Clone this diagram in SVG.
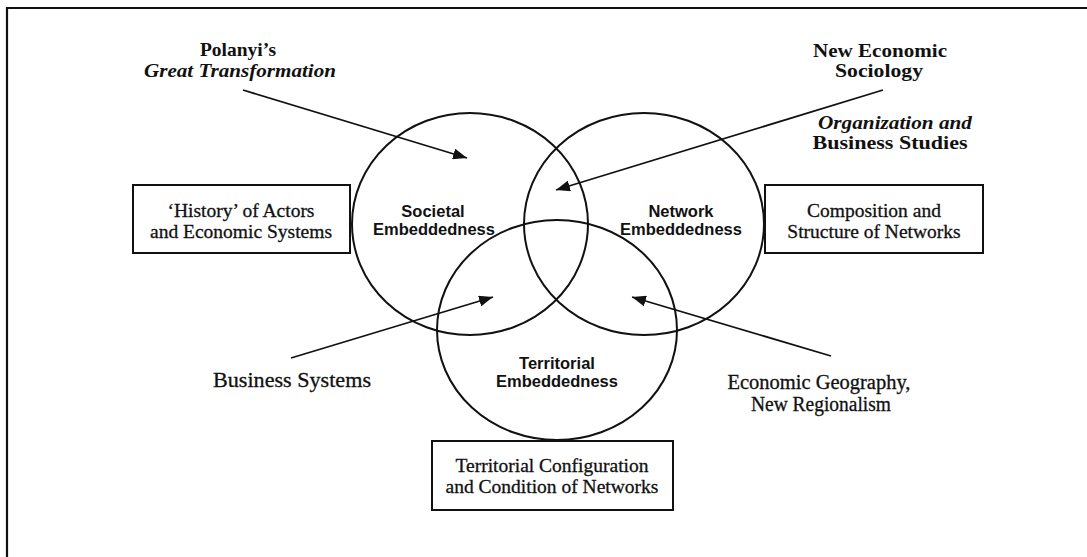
<svg xmlns="http://www.w3.org/2000/svg" width="1087" height="557" viewBox="0 0 1087 557">
  <style>
    .ring { fill: none; stroke: #111; stroke-width: 2; }
    .box { fill: #fff; stroke: #111; stroke-width: 2; }
    .link { fill: none; stroke: #111; stroke-width: 1.8; }
    .core { font-family: "Liberation Sans", Arial, sans-serif; font-weight: bold; font-size: 16.5px; fill: #111; text-anchor: middle; }
    .src { font-family: "Liberation Serif", "Times New Roman", serif; font-weight: bold; font-size: 19.5px; fill: #111; text-anchor: middle; }
    .srcr { font-family: "Liberation Serif", "Times New Roman", serif; font-size: 21px; fill: #111; text-anchor: middle; stroke: #111; stroke-width: 0.3; }
    .geo { font-size: 20px; }
    .lab { font-family: "Liberation Serif", "Times New Roman", serif; font-size: 19.5px; fill: #111; text-anchor: middle; stroke: #111; stroke-width: 0.3; }
    .it { font-style: italic; }
  </style>
  <defs>
    <marker id="head" markerUnits="userSpaceOnUse" markerWidth="15" markerHeight="11" refX="14" refY="5.5" orient="auto">
      <path d="M0,0 L14,5.5 L0,11 Z" fill="#111"/>
    </marker>
  </defs>

  <rect width="1087" height="557" fill="#fff"/>

  <!-- outer frame (top and left edges) -->
  <g id="frame">
    <path d="M7,557 L7,8 L1087,8" fill="none" stroke="#111" stroke-width="2.2"/>
  </g>

  <!-- embeddedness circles -->
  <g id="societal">
    <ellipse class="ring" cx="470" cy="224" rx="118" ry="111"/>
    <text class="core" x="433" y="217">Societal</text>
    <text class="core" x="434" y="235">Embeddedness</text>
  </g>
  <g id="network">
    <ellipse class="ring" cx="644" cy="224" rx="120" ry="111"/>
    <text class="core" x="681" y="217">Network</text>
    <text class="core" x="681" y="235">Embeddedness</text>
  </g>
  <g id="territorial">
    <ellipse class="ring" cx="557" cy="330" rx="120" ry="110"/>
    <text class="core" x="557" y="369">Territorial</text>
    <text class="core" x="557" y="387">Embeddedness</text>
  </g>

  <!-- descriptive boxes -->
  <g id="history-box">
    <rect class="box" x="133" y="185" width="217" height="68"/>
    <text class="lab" x="241" y="217">‘History’ of Actors</text>
    <text class="lab" x="241" y="238">and Economic Systems</text>
  </g>
  <g id="composition-box">
    <rect class="box" x="765" y="185" width="218" height="68"/>
    <text class="lab" x="874" y="217">Composition and</text>
    <text class="lab" x="874" y="238">Structure of Networks</text>
  </g>
  <g id="configuration-box">
    <rect class="box" x="432" y="441" width="241" height="69"/>
    <text class="lab" x="552" y="472">Territorial Configuration</text>
    <text class="lab" x="552" y="493">and Condition of Networks</text>
  </g>

  <!-- source literatures -->
  <g id="polanyi">
    <text class="src" x="238" y="56">Polanyi’s</text>
    <text class="src it" x="240" y="77" textLength="192" lengthAdjust="spacingAndGlyphs">Great Transformation</text>
  </g>
  <g id="sociology">
    <text class="src" x="880" y="57" textLength="134" lengthAdjust="spacingAndGlyphs">New Economic</text>
    <text class="src" x="879" y="77" textLength="88" lengthAdjust="spacingAndGlyphs">Sociology</text>
  </g>
  <g id="organization">
    <text class="src it" x="895" y="129" textLength="154" lengthAdjust="spacingAndGlyphs">Organization and</text>
    <text class="src" x="890" y="149" textLength="155" lengthAdjust="spacingAndGlyphs">Business Studies</text>
  </g>
  <g id="business-systems">
    <text class="srcr" x="292" y="387" textLength="158" lengthAdjust="spacingAndGlyphs">Business Systems</text>
  </g>
  <g id="geography">
    <text class="srcr geo" x="819" y="389" textLength="183" lengthAdjust="spacingAndGlyphs">Economic Geography,</text>
    <text class="srcr geo" x="821" y="411" textLength="140" lengthAdjust="spacingAndGlyphs">New Regionalism</text>
  </g>

  <!-- connectors -->
  <g id="connectors">
    <line class="link" x1="243" y1="90" x2="467" y2="158" marker-end="url(#head)"/>
    <line class="link" x1="883" y1="90" x2="556" y2="190" marker-end="url(#head)"/>
    <line class="link" x1="291" y1="358" x2="493" y2="297" marker-end="url(#head)"/>
    <line class="link" x1="831" y1="356" x2="632" y2="297" marker-end="url(#head)"/>
  </g>
</svg>
